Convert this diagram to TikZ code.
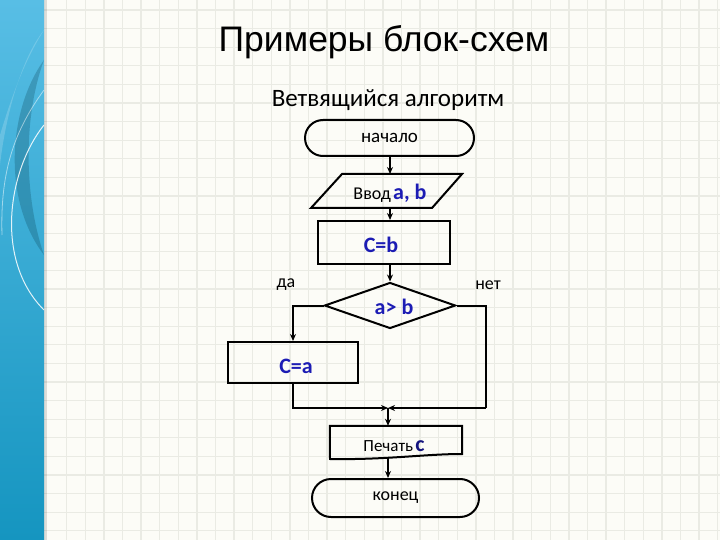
\documentclass[tikz,border=0pt]{standalone}
\usepackage{fontspec}
\setmainfont{Carlito}
\newfontfamily\titlefont{Liberation Sans}
\usetikzlibrary{shapes.geometric,shapes.misc,arrows.meta}
\definecolor{bg}{HTML}{FCFCF7}
\definecolor{gridc}{HTML}{EAEBE4}
\definecolor{txtblue}{HTML}{1C1CB4}
\definecolor{panelA}{HTML}{58BEE5}
\definecolor{panelB}{HTML}{1595C0}
\begin{document}
\begin{tikzpicture}[x=1pt,y=-1pt,
  shape line/.style={draw=black, line width=2pt},
  term/.style={shape line, rounded rectangle, inner sep=0pt},
  procbox/.style={shape line, rectangle, inner sep=0pt},
  arr/.style={-{Stealth[length=7pt,width=6pt]}, line width=2pt},
  link/.style={line width=2pt},
  small/.style={font=\fontsize{18}{20}\selectfont},
  big/.style={font=\fontsize{22}{24}\selectfont\bfseries, text=txtblue}]
% background
\useasboundingbox (0,0) rectangle (720,540);
\fill[bg] (0,0) rectangle (720,540);
\foreach \k in {0,...,35} {
  \draw[gridc, line width=1.3pt] ({66.7+18.6*\k},0) -- ({66.7+18.6*\k},540);
}
\foreach \k in {0,...,29} {
  \draw[gridc, line width=1.3pt] (44,{10+18.6*\k}) -- (720,{10+18.6*\k});
}
% left panel
\shade[top color=panelA, bottom color=panelB] (0,0) rectangle (44,540);
\fill[white, opacity=0.18] (44,30) .. controls (20,60) and (5,120) .. (0,165) -- (0,135) .. controls (12,95) and (25,60) .. (44,30) -- cycle;
\fill[black!60!panelB, opacity=0.25] (44,60) .. controls (8,110) and (2,200) .. (44,255) .. controls (25,200) and (22,120) .. (44,60) -- cycle;
\draw[white, line width=1pt, opacity=0.85] (44,125) .. controls (8,170) and (-6,260) .. (44,310);
\draw[white, line width=0.8pt, opacity=0.5] (44,90) .. controls (15,130) and (0,170) .. (2,235);
\fill[black, opacity=0.12] (44,0) rectangle (47,540);
% titles
\node[font=\titlefont\fontsize{35.5}{40}\selectfont] (title) at (384,42) {Примеры блок-схем};
\node[font=\fontsize{25}{28}\selectfont] (subtitle) at (388,100) {Ветвящийся алгоритм};
% shapes
\node[term, minimum width=169pt, minimum height=36pt, font=\fontsize{19}{21}\selectfont] (start) at (389.5,138) {начало};
\coordinate (inTL) at (342,174);
\coordinate (inTR) at (462,174);
\coordinate (inBR) at (432,208);
\coordinate (inBL) at (311,208);
\draw[shape line, line join=miter] (inTL) -- (inTR) -- (inBR) -- (inBL) -- cycle;
\node (intext) at (390,193) {{\fontsize{18}{20}\selectfont Ввод} {\fontsize{22}{24}\selectfont\bfseries\color{txtblue}a, b}};
\node[procbox, minimum width=132pt, minimum height=43pt] (cb) at (384,242.5) {};
\node[big] (cbtext) at (381,245) {C=b};
\node[shape line, diamond, minimum width=131pt, minimum height=46pt, inner sep=0pt] (cond) at (390,305.5) {};
\node[big] (condtext) at (394,307) {a> b};
\node[small] (yes) at (286,285) {да};
\node[small] (no) at (488,285) {нет};
\node[procbox, minimum width=130pt, minimum height=41pt] (ca) at (293,362.5) {};
\node[big] (catext) at (296,366) {C=a};
\node[minimum width=132pt, minimum height=30pt, inner sep=0pt] (pr) at (396,441) {};
\coordinate (prBR) at (462,454);
\coordinate (prBL) at (330,459);
\draw[shape line, line join=miter] (pr.north west) -- (pr.north east) -- (prBR) .. controls (425,454) and (385,460) .. (prBL) -- cycle;
\node (prtext) at (394,446) {{\fontsize{17}{19}\selectfont Печать} {\fontsize{22}{24}\selectfont\bfseries\color{txtblue!70!black}c}};
\node[term, minimum width=167pt, minimum height=38pt, font=\fontsize{18}{20}\selectfont] (end) at (395.5,498) {конец};
% connectors
\coordinate (J) at (388,408);
\coordinate (R) at (486,408);
\coordinate (prB) at (388,458);
\coordinate (inTop) at (390,174);
\coordinate (inBot) at (390,208);
\draw[arr] (start.south -| inTop) -- (inTop);
\draw[arr] (inBot) -- (inBot |- cb.north);
\draw[arr] (cb.south -| cond.north) -- (cond.north);
\draw[arr] (cond.west) -| (ca.north);
\draw[link] (cond.east) -| (R);
\draw[arr] (R) -- (J);
\draw[arr] (ca.south) |- (J);
\draw[arr] (J) -- (J |- pr.north);
\draw[arr] (prB) -- (prB |- end.north);
\end{tikzpicture}
\end{document}
